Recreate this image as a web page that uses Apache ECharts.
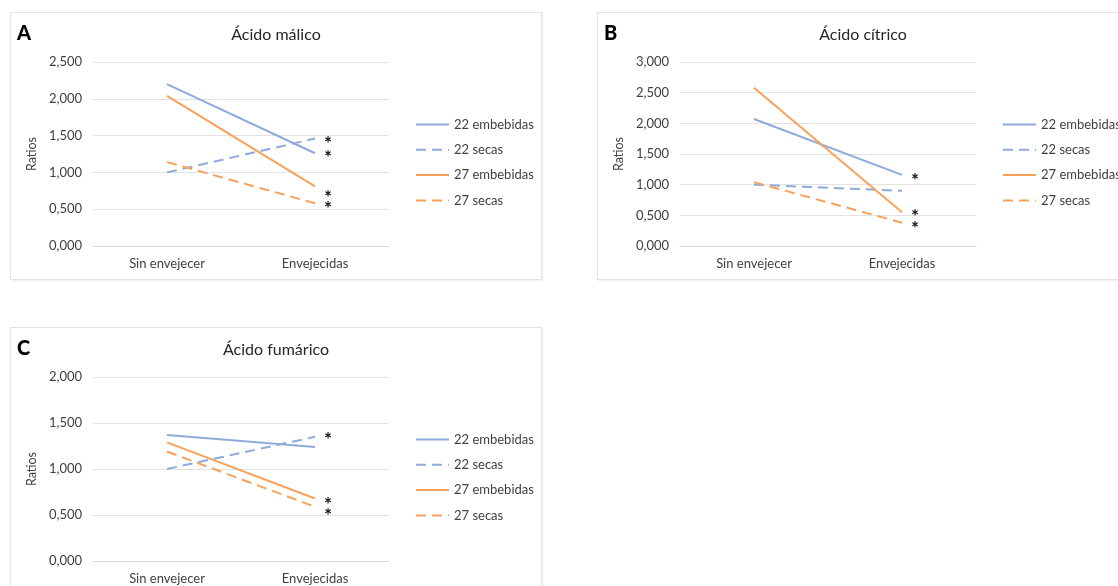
<!DOCTYPE html>
<html>
<head>
<meta charset="utf-8">
<script src="https://cdn.jsdelivr.net/npm/echarts@6/dist/echarts.min.js"></script>
<style>
  html, body { margin: 0; padding: 0; background: #fff; width: 1118px; height: 586px; overflow: hidden; }
  .panel {
    position: absolute; width: 532px; height: 268px;
    border: 1px solid #e4e4e4; box-sizing: border-box;
    box-shadow: 1px 1px 2px rgba(0, 0, 0, 0.07); background: #fff;
  }
</style>
</head>
<body>
<div id="panelA" class="panel" style="left:10px; top:12px;"></div>
<div id="panelB" class="panel" style="left:597px; top:12px;"></div>
<div id="panelC" class="panel" style="left:10px; top:327px; height:280px;"></div>
<script>
// Categories and series shared by the three panels
const categories = ['Sin envejecer', 'Envejecidas'];
const seriesNames = ['22 embebidas', '22 secas', '27 embebidas', '27 secas'];

// Ratios per series: [Sin envejecer, Envejecidas]
const malicoValues = [[2.20, 1.26], [1.00, 1.46], [2.04, 0.81], [1.14, 0.58]];
const citricoValues = [[2.07, 1.16], [1.00, 0.90], [2.58, 0.55], [1.04, 0.38]];
const fumaricoValues = [[1.37, 1.24], [1.00, 1.35], [1.29, 0.68], [1.19, 0.59]];

// Series with a significant change after ageing (marked with an asterisk)
const malicoSignificant = [true, true, true, true];
const citricoSignificant = [true, false, true, true];
const fumaricoSignificant = [false, true, true, true];

// Value axis ranges
const malicoAxis = { min: 0, max: 2.5, interval: 0.5 };
const citricoAxis = { min: 0, max: 3.0, interval: 0.5 };
const fumaricoAxis = { min: 0, max: 2.0, interval: 0.5 };

const FONT = 'Lato, "Open Sans", sans-serif';
const colors = ['#8eaadb', '#8eaadb', '#f7a25b', '#f7a25b'];
const dashed = [false, true, false, true];

function buildSeries(values, marks, starOffsets) {
  return seriesNames.map((name, i) => ({
    name: name,
    type: 'line',
    symbol: 'circle',
    symbolSize: 0,
    showSymbol: true,
    silent: true,
    emphasis: { disabled: true },
    lineStyle: { color: colors[i], width: 2, type: dashed[i] ? [10, 6] : 'solid' },
    itemStyle: { color: colors[i] },
    data: values[i].map((v, j) => (j === values[i].length - 1 && marks[i])
      ? {
          value: v,
          label: {
            show: true, formatter: '*', position: 'right', distance: 9,
            offset: [0, starOffsets[i]],
            color: '#111', fontSize: 19, fontWeight: 'bold', fontFamily: FONT
          }
        }
      : v)
  }));
}

function buildOption(letter, title, axis, values, marks, starOffsets) {
  return {
    animation: false,
    textStyle: { fontFamily: FONT },
    title: {
      text: title, left: 'center', top: 9,
      textStyle: { fontFamily: FONT, fontSize: 16, fontWeight: 'normal', color: '#262626' }
    },
    graphic: [{
      type: 'text', left: 6, top: 11,
      style: { text: letter, fontFamily: FONT, fontSize: 20, fontWeight: 900, fill: '#000' }
    }],
    legend: {
      orient: 'vertical', left: 399, top: 100,
      itemWidth: 33, itemHeight: 14, itemGap: 12.3,
      itemStyle: { opacity: 0 },
      selectedMode: false,
      textStyle: { fontFamily: FONT, fontSize: 13, color: '#404040' },
      data: seriesNames
    },
    grid: { left: 82, top: 49, width: 296, height: 184 },
    xAxis: {
      type: 'category', data: categories, boundaryGap: true,
      axisLine: { lineStyle: { color: '#d9d9d9', width: 1 } },
      axisTick: { show: false },
      axisLabel: { margin: 11, fontFamily: FONT, fontSize: 13, color: '#404040' }
    },
    yAxis: {
      type: 'value', min: axis.min, max: axis.max, interval: axis.interval,
      name: 'Ratios', nameLocation: 'middle', nameGap: 51, nameRotate: 90,
      nameTextStyle: { fontFamily: FONT, fontSize: 12.5, color: '#404040' },
      axisLine: { show: false }, axisTick: { show: false },
      splitLine: { lineStyle: { color: '#e3e3e3', width: 1 } },
      axisLabel: {
        margin: 11, fontFamily: FONT, fontSize: 13, color: '#404040',
        formatter: v => v.toFixed(3).replace('.', ',')
      }
    },
    series: buildSeries(values, marks, starOffsets)
  };
}

echarts.init(document.getElementById('panelA'), null, { renderer: 'canvas' })
  .setOption(buildOption('A', 'Ácido málico', malicoAxis, malicoValues, malicoSignificant, [5, 5, 11, 6]));
echarts.init(document.getElementById('panelB'), null, { renderer: 'canvas' })
  .setOption(buildOption('B', 'Ácido cítrico', citricoAxis, citricoValues, citricoSignificant, [6, 5, 5, 6]));
echarts.init(document.getElementById('panelC'), null, { renderer: 'canvas' })
  .setOption(buildOption('C', 'Ácido fumárico', fumaricoAxis, fumaricoValues, fumaricoSignificant, [5, 3, 6, 9]));
</script>
</body>
</html>
